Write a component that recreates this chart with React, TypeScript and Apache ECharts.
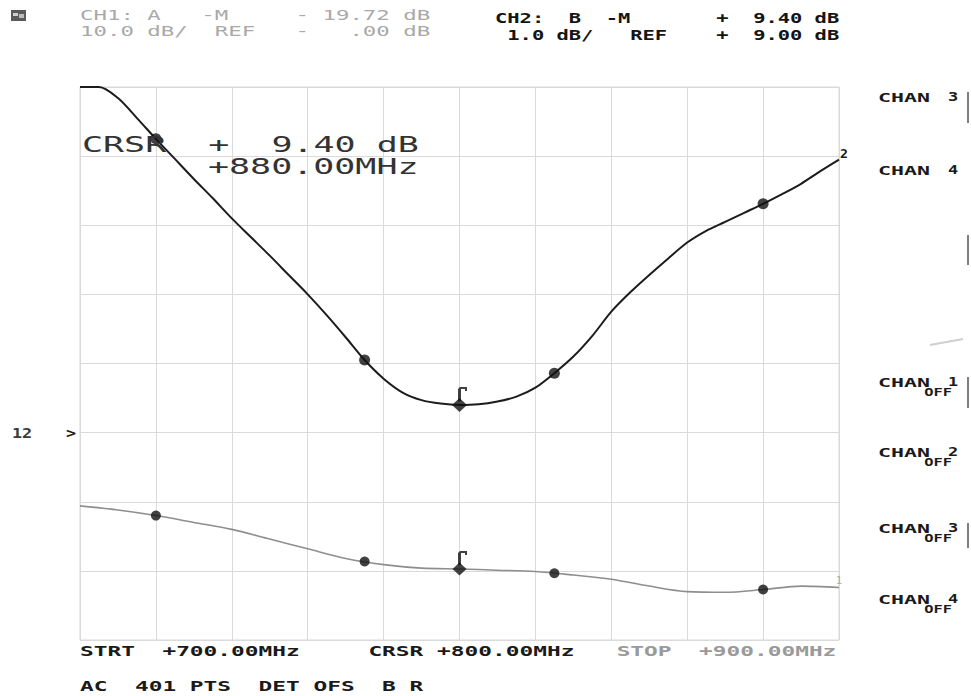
import React, { useEffect, useRef } from "react";
import * as echarts from "echarts";

// CH2 trace (B-M, dB) every 5 MHz from 700 to 900 MHz
const ch2Freq = [700, 705, 710, 715, 720, 725, 730, 735, 740, 745, 750, 755, 760, 765, 770, 775, 780, 785, 790, 795, 800, 805, 810, 815, 820, 825, 830, 835, 840, 845, 850, 855, 860, 865, 870, 875, 880, 885, 890, 895, 900];
const ch2Db = [14.0, 14.0, 13.84, 13.55, 13.25, 12.96, 12.67, 12.39, 12.1, 11.83, 11.56, 11.28, 11.0, 10.7, 10.38, 10.05, 9.78, 9.58, 9.47, 9.42, 9.4, 9.41, 9.45, 9.52, 9.65, 9.86, 10.1, 10.4, 10.75, 11.03, 11.28, 11.52, 11.75, 11.92, 12.05, 12.18, 12.31, 12.45, 12.6, 12.78, 12.95];
// CH1 trace (A-M, dB) every 10 MHz
const ch1Freq = [700, 710, 720, 730, 740, 750, 760, 770, 780, 790, 800, 810, 820, 830, 840, 850, 860, 870, 880, 890, 900];
const ch1Db = [-10.6, -11.2, -12.0, -13.0, -14.0, -15.4, -16.8, -18.2, -19.1, -19.6, -19.72, -19.9, -20.1, -20.6, -21.2, -22.2, -23.0, -23.1, -22.7, -22.2, -22.4];
// Markers and cursor
const markerFreqs = [720, 775, 825, 880];
const ch2MarkerDb = [13.25, 10.05, 9.86, 12.31];
const ch1MarkerDb = [-12.0, -18.65, -20.35, -22.7];
const cursorFreq = 800;
const ch2CursorDb = 9.4;
const ch1CursorDb = -19.72;

// Axis settings: CH2 1 dB/div ref 9 dB, CH1 10 dB/div ref 0 dB, ref line 3 div above bottom
const freqStart = 700;
const freqStop = 900;
const freqStep = 20;
const ch2Min = 6;
const ch2Max = 14;
const ch2Step = 1;
const ch1Min = -30;
const ch1Max = 50;
const ch1Step = 10;

// Annotation texts
const ch1Header = ["CH1: A   -M     - 19.72 dB", "10.0 dB/  REF   -   .00 dB"];
const ch2Header = ["CH2:  B  -M       +  9.40 dB", " 1.0 dB/   REF    +  9.00 dB"];
const crsrLine1 = "CRSR  +  9.40 dB";
const crsrLine2 = "+880.00MHz";
const footer1a = "STRT  +700.00MHz     CRSR +800.00MHz   ";
const footer1b = "STOP  +900.00MHz";
const footer2 = "AC  401 PTS  DET OFS  B R";
const chanNames = ["CHAN", "CHAN", "CHAN", "CHAN", "CHAN", "CHAN"];
const chanNums = ["3", "4", "1", "2", "3", "4"];
const chanStates = ["", "", "OFF", "OFF", "OFF", "OFF"];
const chanY = [97, 170, 382, 452, 528, 599];

const MONO = '"DejaVu Sans Mono", monospace';

function monoText(x: number, y: number, text: string, size: number, scaleX: number, fill: string, weight = "normal", align = "left") {
  return {
    type: "text",
    x,
    y,
    scaleX,
    z: 20,
    style: {
      text,
      font: `${weight} ${size}px ${MONO}`,
      fill,
      textAlign: align,
      textVerticalAlign: "middle",
    },
  };
}

const flagPath = "path://M0 14 L0 2 L2 0 L9 0 L9 4 L7 4 L7 2 L3 2 L3 14 Z";

export default function App() {
  const ref = useRef<HTMLDivElement>(null);

  useEffect(() => {
    if (!ref.current) return;
    const chart = echarts.init(ref.current, undefined, { renderer: "svg" });

    const hidden = {
      axisLine: { show: false },
      axisTick: { show: false },
      axisLabel: { show: false },
    };

    const graphics: any[] = [];
    // instrument icon
    graphics.push({ type: "rect", shape: { x: 11, y: 10, width: 15, height: 11 }, style: { fill: "#5a5a5a" }, z: 20 });
    graphics.push({ type: "rect", shape: { x: 13, y: 13, width: 5, height: 3 }, style: { fill: "#d0d0d0" }, z: 21 });
    graphics.push({ type: "rect", shape: { x: 19, y: 14, width: 5, height: 4 }, style: { fill: "#bbbbbb" }, z: 21 });

    // headers
    graphics.push(monoText(80, 15, ch1Header[0], 14, 1.6, "#a9a9a9"));
    graphics.push(monoText(80, 31, ch1Header[1], 14, 1.6, "#a9a9a9"));
    graphics.push(monoText(495, 18, ch2Header[0], 14, 1.46, "#141414", "bold"));
    graphics.push(monoText(495, 35, ch2Header[1], 14, 1.46, "#141414", "bold"));

    // cursor readout
    graphics.push(monoText(82, 144, crsrLine1, 22, 1.59, "#333333"));
    graphics.push(monoText(208, 166, crsrLine2, 22, 1.59, "#333333"));

    // footer
    graphics.push(monoText(80, 651, footer1a, 14, 1.63, "#1a1a1a", "bold"));
    graphics.push(monoText(80 + footer1a.length * 13.76, 651, footer1b, 14, 1.63, "#9a9a9a", "bold"));
    graphics.push(monoText(80, 686, footer2, 14, 1.63, "#1a1a1a", "bold"));

    // reference position
    graphics.push(monoText(12, 433, "12", 14, 1.2, "#3a3a3a", "bold"));
    graphics.push(monoText(66, 433, ">", 14, 1.2, "#1a1a1a", "bold"));

    // trace labels
    graphics.push(monoText(840, 154, "2", 12, 1.1, "#1a1a1a", "bold"));
    graphics.push(monoText(836, 580, "1", 10, 1.0, "#aaaaaa"));

    // channel labels
    chanNames.forEach((name, i) => {
      const y = chanY[i];
      graphics.push(monoText(878, y, name, 13, 1.66, "#1a1a1a", "bold"));
      graphics.push(monoText(948, y, chanNums[i], 13, 1.3, "#1a1a1a", "bold"));
      if (chanStates[i]) {
        graphics.push(monoText(952, y + 10, chanStates[i], 11, 1.4, "#1a1a1a", "bold", "right"));
      }
    });

    // side bars
    const barTops = [92, 235, 377, 523];
    const barBottoms = [123, 265, 408, 548];
    barTops.forEach((a, i) => {
      graphics.push({ type: "line", shape: { x1: 968, y1: a, x2: 968, y2: barBottoms[i] }, style: { stroke: "#555", lineWidth: 1.5 }, z: 20 });
    });
    graphics.push({ type: "line", shape: { x1: 930, y1: 345, x2: 963, y2: 339 }, style: { stroke: "#cfcfcf", lineWidth: 2 }, z: 20 });

    const option: any = {
      animation: false,
      backgroundColor: "#ffffff",
      grid: {
        left: 80,
        top: 87,
        width: 759,
        height: 553,
        show: true,
        borderColor: "#d8d8d8",
        borderWidth: 1,
        backgroundColor: "transparent",
      },
      xAxis: {
        type: "value",
        min: freqStart,
        max: freqStop,
        interval: freqStep,
        ...hidden,
        splitLine: { show: true, lineStyle: { color: "#dadada", width: 1 } },
      },
      yAxis: [
        {
          type: "value",
          min: ch2Min,
          max: ch2Max,
          interval: ch2Step,
          ...hidden,
          splitLine: { show: true, lineStyle: { color: "#dadada", width: 1 } },
        },
        {
          type: "value",
          min: ch1Min,
          max: ch1Max,
          interval: ch1Step,
          show: false,
          splitLine: { show: false },
        },
      ],
      series: [
        {
          name: "CH2",
          type: "line",
          yAxisIndex: 0,
          data: ch2Freq.map((f, i) => [f, ch2Db[i]]),
          smooth: 0.3,
          showSymbol: false,
          clip: true,
          lineStyle: { color: "#1c1c1c", width: 2 },
          z: 4,
        },
        {
          name: "CH1",
          type: "line",
          yAxisIndex: 1,
          data: ch1Freq.map((f, i) => [f, ch1Db[i]]),
          smooth: 0.3,
          showSymbol: false,
          clip: true,
          lineStyle: { color: "#8e8e8e", width: 1.6 },
          z: 3,
        },
        {
          type: "scatter",
          yAxisIndex: 0,
          data: markerFreqs.map((f, i) => [f, ch2MarkerDb[i]]),
          symbol: "circle",
          symbolSize: 11,
          itemStyle: { color: "#111111" },
          z: 6,
        },
        {
          type: "scatter",
          yAxisIndex: 1,
          data: markerFreqs.map((f, i) => [f, ch1MarkerDb[i]]),
          symbol: "circle",
          symbolSize: 10,
          itemStyle: { color: "#111111" },
          z: 6,
        },
        {
          type: "scatter",
          yAxisIndex: 0,
          data: [[cursorFreq, ch2CursorDb]],
          symbol: "diamond",
          symbolSize: [15, 14],
          itemStyle: { color: "#111111" },
          z: 7,
        },
        {
          type: "scatter",
          yAxisIndex: 0,
          data: [[cursorFreq, ch2CursorDb]],
          symbol: flagPath,
          symbolSize: [9, 14],
          symbolOffset: [3, -11],
          itemStyle: { color: "#111111" },
          z: 7,
        },
        {
          type: "scatter",
          yAxisIndex: 1,
          data: [[cursorFreq, ch1CursorDb]],
          symbol: "diamond",
          symbolSize: [14, 13],
          itemStyle: { color: "#111111" },
          z: 7,
        },
        {
          type: "scatter",
          yAxisIndex: 1,
          data: [[cursorFreq, ch1CursorDb]],
          symbol: flagPath,
          symbolSize: [9, 14],
          symbolOffset: [3, -11],
          itemStyle: { color: "#111111" },
          z: 7,
        },
      ],
      graphic: graphics,
    };

    chart.setOption(option);
    return () => chart.dispose();
  }, []);

  return (
    <div
      ref={ref}
      style={{ position: "fixed", left: 0, top: 0, width: 971, height: 696, background: "#ffffff" }}
    />
  );
}
